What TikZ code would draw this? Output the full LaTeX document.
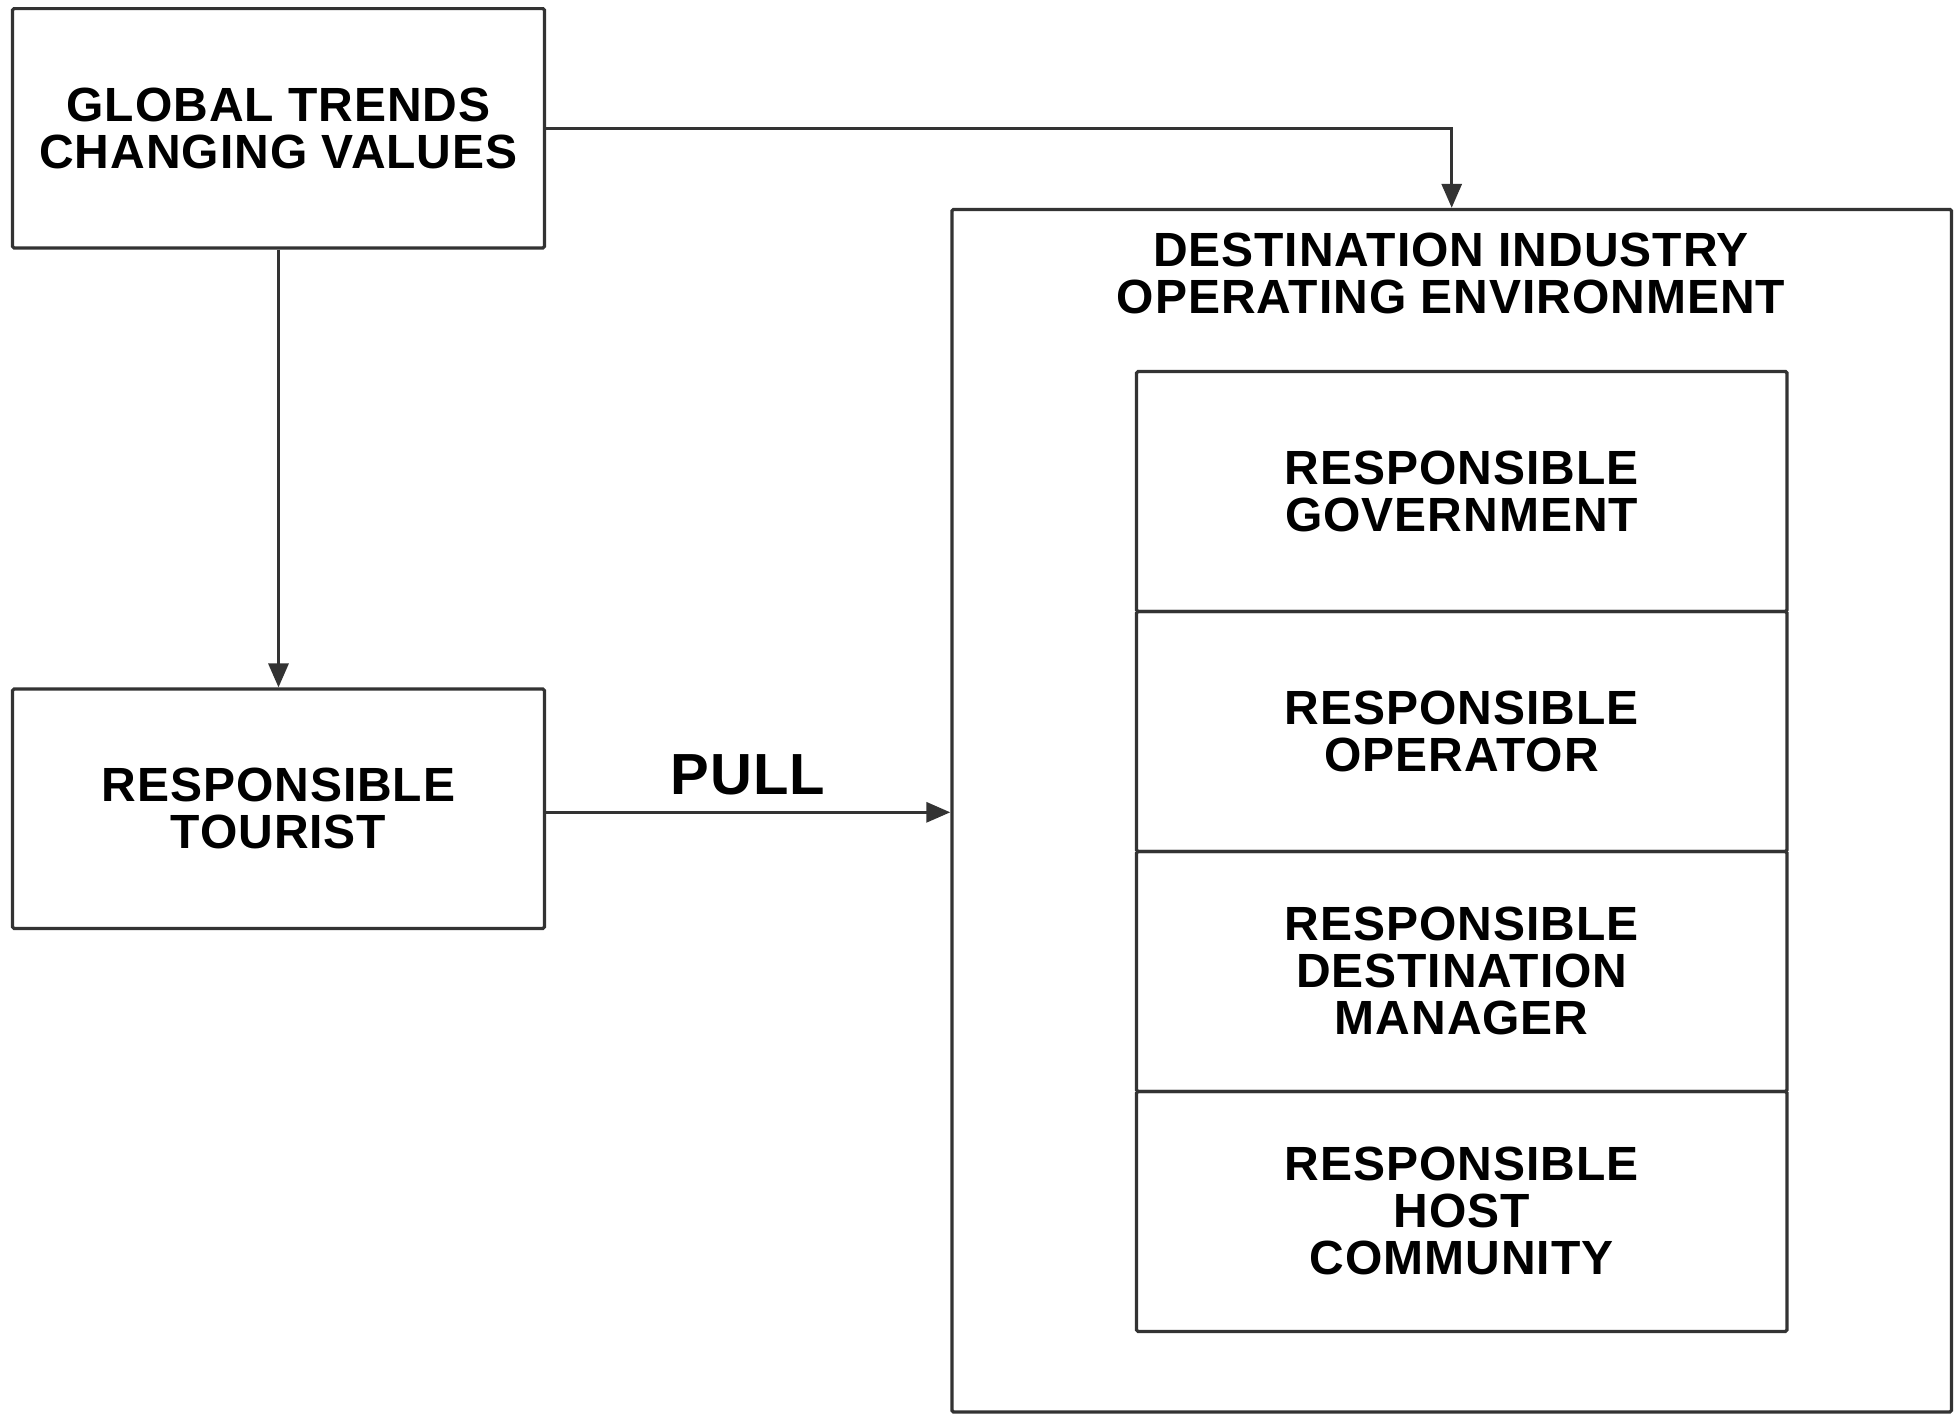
\documentclass[tikz,border=0pt]{standalone}
\usepackage{fontspec}
\setmainfont{Liberation Sans}[LetterSpace=2]
\usetikzlibrary{arrows.meta}
\begin{document}
\begin{tikzpicture}[x=0.5pt,y=-0.5pt,
  box/.style={draw=black!80, line width=1.6pt, rectangle, rounded corners=0.8pt, inner sep=0pt, align=center,
              font=\fontsize{24}{23.5}\selectfont\bfseries},
  cell/.style={box, minimum width=325.25pt, minimum height=120pt},
  conn/.style={draw=black!80, line width=1.6pt, -{Triangle[length=12pt,width=10pt]}},
  lbl/.style={inner sep=0pt, align=center, font=\fontsize{24}{23.5}\selectfont\bfseries},
]
\useasboundingbox (0,0) rectangle (1954,1415);
\fill[white] (0,0) rectangle (1954,1415);

\node[box, minimum width=266pt, minimum height=119.7pt] (global) at (278.5,128.3) {GLOBAL TRENDS\\CHANGING VALUES};
\node[box, minimum width=266pt, minimum height=119.7pt] (tourist) at (278.5,808.7) {RESPONSIBLE\\TOURIST};

\node[box, minimum width=499.8pt, minimum height=601.3pt] (env) at (1451.7,810.7) {};
\node[lbl] (envtitle) at (1451,273) {DESTINATION INDUSTRY\\OPERATING ENVIRONMENT};

\node[cell] (gov) at (1461.75,491.4) {RESPONSIBLE\\GOVERNMENT};
\node[cell] (op) at (1461.75,731.4) {RESPONSIBLE\\OPERATOR};
\node[cell] (mgr) at (1461.75,971.4) {RESPONSIBLE\\DESTINATION\\MANAGER};
\node[cell] (host) at (1461.75,1211.4) {RESPONSIBLE\\HOST\\COMMUNITY};

\draw[conn] (global.east) -| (env.north);
\draw[conn] (global.south) -- (tourist.north);
\draw[conn] ([yshift=-1.8pt]tourist.east) -- ([yshift=-1.8pt]tourist.east -| env.west);
\node[inner sep=0pt, font=\fontsize{29}{30}\selectfont\bfseries] (pull) at (747.7,775) {PULL};
\end{tikzpicture}
\end{document}
